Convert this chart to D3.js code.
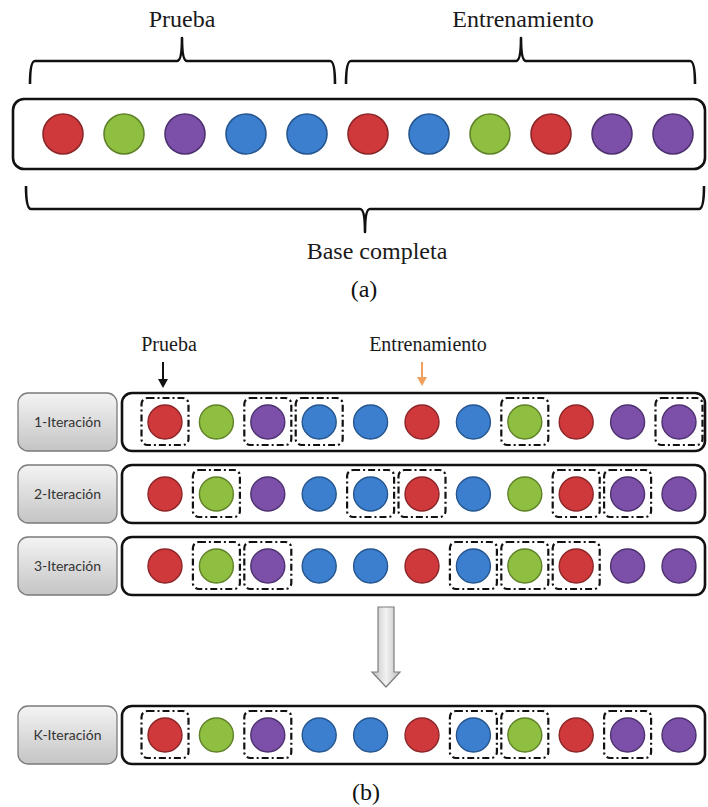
<!DOCTYPE html>
<html><head><meta charset="utf-8">
<script src="https://cdn.jsdelivr.net/npm/d3@7"></script>
<style>body{margin:0;background:#fff}svg{display:block}</style>
</head><body>
<svg id="c" width="708" height="807"></svg>
<script>
// ---- data ----
const ballSequence = ["red","green","purple","blue","blue","red","blue","green","red","purple","purple"];
const iterationLabels = ["1-Iteración","2-Iteración","3-Iteración","K-Iteración"];
const testSets = [
  [0,2,3,7,10],
  [1,4,5,8,9],
  [1,2,6,7,8],
  [0,2,6,7,9]
];
const partATexts = {test:"Prueba", train:"Entrenamiento", full:"Base completa", cap:"(a)"};
const partBTexts = {test:"Prueba", train:"Entrenamiento", cap:"(b)"};

const fillColor = {red:"#d0393b", green:"#8fbf41", purple:"#7c50a8", blue:"#3c7fcf"};
const edgeColor = {red:"#8c2628", green:"#5f8229", purple:"#4e3270", blue:"#26568f"};

const svg = d3.select("#c");
const defs = svg.append("defs");
const lg = defs.append("linearGradient").attr("id","lbl").attr("x1",0).attr("y1",0).attr("x2",0).attr("y2",1);
lg.append("stop").attr("offset","0%").attr("stop-color","#f4f4f4");
lg.append("stop").attr("offset","100%").attr("stop-color","#c4c4c4");
const ag = defs.append("linearGradient").attr("id","arr").attr("x1",0).attr("y1",0).attr("x2",1).attr("y2",0);
ag.append("stop").attr("offset","0%").attr("stop-color","#bdbdbd");
ag.append("stop").attr("offset","50%").attr("stop-color","#f2f2f2");
ag.append("stop").attr("offset","100%").attr("stop-color","#bdbdbd");

const serif = "'Liberation Serif','Times New Roman',serif";

function brace(x1, x2, xm, yBase, yTip, yPeak) {
  const p = d3.path();
  const c = 5;
  p.moveTo(x1, yTip);
  p.quadraticCurveTo(x1, yBase, x1 + c, yBase);
  p.lineTo(xm - c, yBase);
  p.quadraticCurveTo(xm, yBase, xm, yPeak);
  p.quadraticCurveTo(xm, yBase, xm + c, yBase);
  p.lineTo(x2 - c, yBase);
  p.quadraticCurveTo(x2, yBase, x2, yTip);
  return p.toString();
}

// ---- part (a) ----
const xA = d3.scalePoint().domain(d3.range(ballSequence.length)).range([63, 673]);
const gA = svg.append("g");
gA.append("text").attr("x",182).attr("y",27).attr("text-anchor","middle")
  .style("font-family",serif).style("font-size","24px").attr("fill","#1a1a1a").text(partATexts.test);
gA.append("text").attr("x",523).attr("y",27).attr("text-anchor","middle")
  .style("font-family",serif).style("font-size","24px").attr("fill","#1a1a1a").text(partATexts.train);
const braceStyle = s => s.attr("fill","none").attr("stroke","#111").attr("stroke-width",2.6).attr("stroke-linejoin","round");
gA.append("path").attr("d", brace(30, 335, 182, 61, 84, 38)).call(braceStyle);
gA.append("path").attr("d", brace(346, 695, 521, 61, 84, 38)).call(braceStyle);
gA.append("rect").attr("x",13).attr("y",99).attr("width",692).attr("height",70).attr("rx",11)
  .attr("fill","#fff").attr("stroke","#111").attr("stroke-width",2.6);
gA.selectAll("circle").data(ballSequence).join("circle")
  .attr("cx",(d,i)=>xA(i)).attr("cy",134).attr("r",20)
  .attr("fill",d=>fillColor[d]).attr("stroke",d=>edgeColor[d]).attr("stroke-width",1.6);
gA.append("path").attr("d", brace(26, 704, 365, 209, 186, 232)).call(braceStyle);
gA.append("text").attr("x",377).attr("y",259).attr("text-anchor","middle")
  .style("font-family",serif).style("font-size","24px").attr("fill","#1a1a1a").text(partATexts.full);
gA.append("text").attr("x",364).attr("y",297).attr("text-anchor","middle")
  .style("font-family",serif).style("font-size","24px").attr("fill","#111").text(partATexts.cap);

// ---- part (b) ----
const xB = d3.scalePoint().domain(d3.range(ballSequence.length)).range([165, 679]);
const yB = d3.scaleOrdinal().domain(iterationLabels).range([422, 494, 566, 735]);
const gB = svg.append("g");

function downArrow(x, y1, y2, color) {
  gB.append("line").attr("x1",x).attr("x2",x).attr("y1",y1).attr("y2",y2-7)
    .attr("stroke",color).attr("stroke-width",2);
  gB.append("path").attr("d",`M${x-5},${y2-9}L${x+5},${y2-9}L${x},${y2}Z`).attr("fill",color);
}
gB.append("text").attr("x",169).attr("y",351).attr("text-anchor","middle")
  .style("font-family",serif).style("font-size","20px").attr("fill","#1a1a1a").text(partBTexts.test);
downArrow(163, 362, 388, "#111");
gB.append("text").attr("x",428).attr("y",351).attr("text-anchor","middle")
  .style("font-family",serif).style("font-size","20px").attr("fill","#1a1a1a").text(partBTexts.train);
downArrow(422, 362, 386, "#f0a05c");

const rows = gB.selectAll("g.row").data(iterationLabels.map((lab,k)=>({lab, test:testSets[k]})))
  .join("g").attr("class","row").attr("transform",d=>`translate(0,${yB(d.lab)})`);
rows.append("rect").attr("x",18).attr("y",-29).attr("width",99).attr("height",58).attr("rx",10)
  .attr("fill","url(#lbl)").attr("stroke","#7a7a7a").attr("stroke-width",1.3);
rows.append("text").attr("x",67.5).attr("y",5).attr("text-anchor","middle")
  .style("font-family","Lato, 'Noto Sans', sans-serif").style("font-size","14px").attr("fill","#333")
  .text(d=>d.lab);
rows.append("rect").attr("x",122).attr("y",-29).attr("width",583).attr("height",58).attr("rx",10)
  .attr("fill","#fff").attr("stroke","#111").attr("stroke-width",2.6);
rows.selectAll("circle").data(()=>ballSequence).join("circle")
  .attr("cx",(d,i)=>xB(i)).attr("cy",0).attr("r",17)
  .attr("fill",d=>fillColor[d]).attr("stroke",d=>edgeColor[d]).attr("stroke-width",1.4);
rows.selectAll("rect.sel").data(d=>d.test).join("rect").attr("class","sel")
  .attr("x",i=>xB(i)-23.5).attr("y",-24).attr("width",47).attr("height",47).attr("rx",6)
  .attr("fill","none").attr("stroke","#111").attr("stroke-width",2.2)
  .attr("stroke-dasharray","7,3,2,3");

// gray arrow
gB.append("path").attr("d","M378,607L394,607L394,672L400,672L386,687L372,672L378,672Z")
  .attr("fill","url(#arr)").attr("stroke","#7d7d7d").attr("stroke-width",1.2);

gB.append("text").attr("x",366).attr("y",800).attr("text-anchor","middle")
  .style("font-family",serif).style("font-size","24px").attr("fill","#111").text(partBTexts.cap);
</script>
</body></html>
